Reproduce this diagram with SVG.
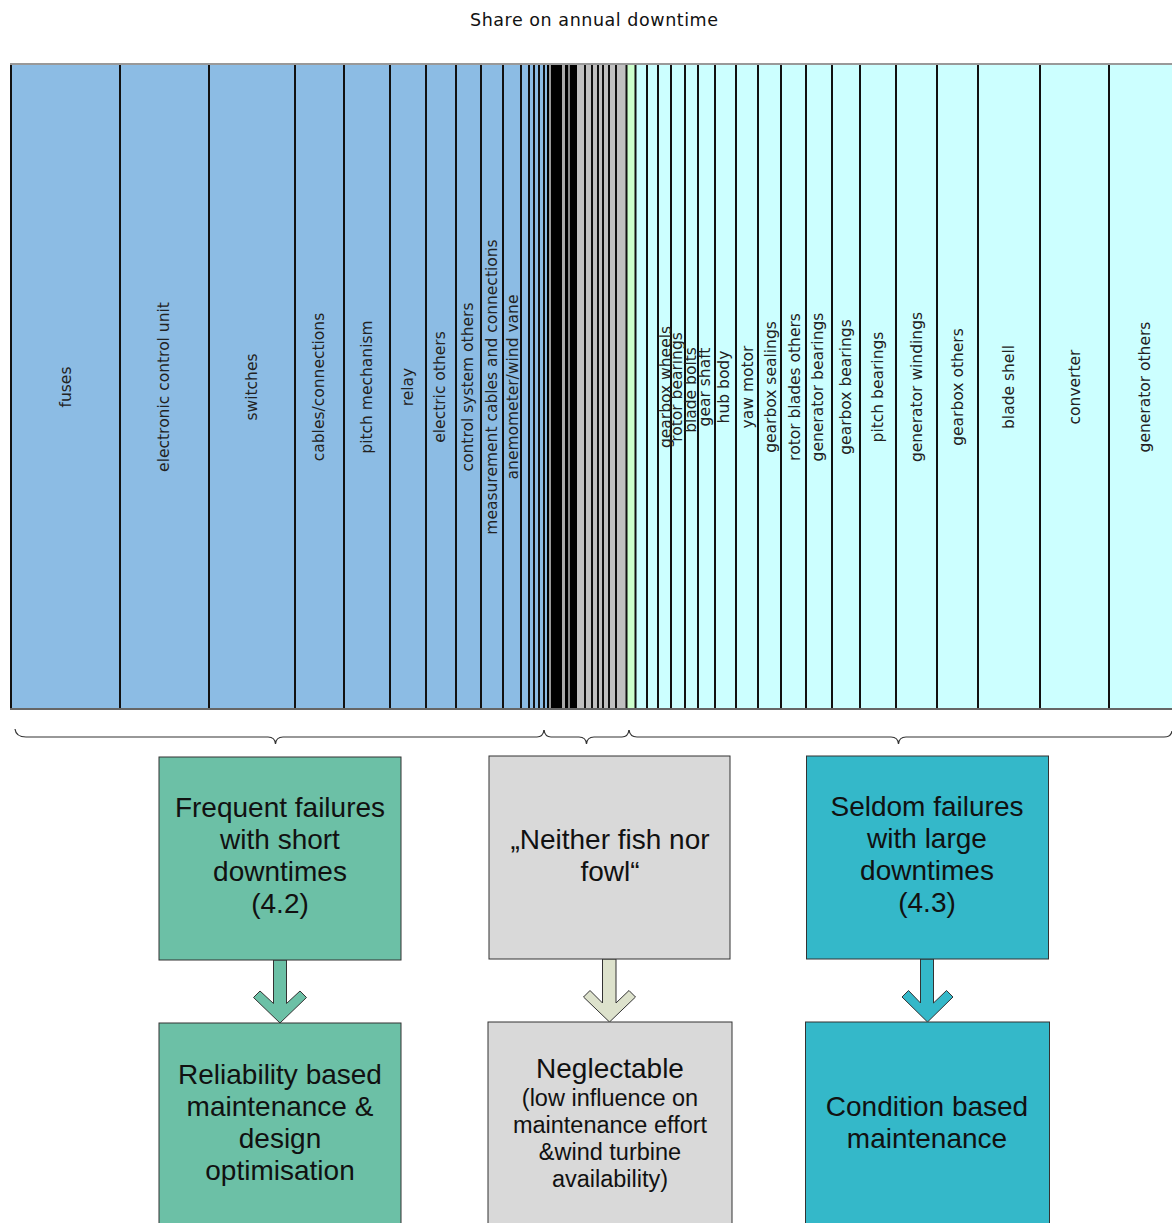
<svg xmlns="http://www.w3.org/2000/svg" width="1172" height="1223" viewBox="0 0 1172 1223">
<style>
.lbl{font-family:"DejaVu Sans",sans-serif;font-size:15.5px;fill:#222;text-anchor:middle;dominant-baseline:central}
.vl{stroke:#111;stroke-width:2}
.bt{font-family:"Liberation Sans",Arial,sans-serif;font-size:28px;fill:#111;text-anchor:middle}
.st{font-family:"Liberation Sans",Arial,sans-serif;font-size:23.5px;fill:#111;text-anchor:middle}
.brace{fill:none;stroke:#333;stroke-width:1.2}
.box{stroke:#333;stroke-width:1}
.arr{stroke:#333;stroke-width:1}
</style>
<rect width="1172" height="1223" fill="#fff"/>
<text x="594" y="26" font-family="DejaVu Sans,sans-serif" font-size="17.5" fill="#111" text-anchor="middle" textLength="248">Share on annual downtime</text>
<g id="chart">
<rect x="11" y="64" width="536" height="645" fill="#8CBCE4"/>
<rect x="547" y="64" width="30" height="645" fill="#000"/>
<rect x="549" y="64" width="2" height="645" fill="#999"/>
<rect x="562" y="64" width="3" height="645" fill="#aaa"/>
<rect x="568" y="64" width="2" height="645" fill="#888"/>
<rect x="577" y="64" width="50" height="645" fill="#C0C0C0"/>
<rect x="627" y="64" width="9" height="645" fill="#CCFFCC"/>
<rect x="636" y="64" width="545" height="645" fill="#CCFFFF"/>
<g class="vl">
<line x1="11" y1="64" x2="11" y2="709"/>
<line x1="120" y1="64" x2="120" y2="709"/>
<line x1="209" y1="64" x2="209" y2="709"/>
<line x1="295" y1="64" x2="295" y2="709"/>
<line x1="344" y1="64" x2="344" y2="709"/>
<line x1="390" y1="64" x2="390" y2="709"/>
<line x1="426" y1="64" x2="426" y2="709"/>
<line x1="456" y1="64" x2="456" y2="709"/>
<line x1="481" y1="64" x2="481" y2="709"/>
<line x1="503" y1="64" x2="503" y2="709"/>
<line x1="521" y1="64" x2="521" y2="709"/>
<line x1="529" y1="64" x2="529" y2="709"/>
<line x1="534" y1="64" x2="534" y2="709"/>
<line x1="539" y1="64" x2="539" y2="709"/>
<line x1="544" y1="64" x2="544" y2="709"/>
<line x1="585" y1="64" x2="585" y2="709"/>
<line x1="592" y1="64" x2="592" y2="709"/>
<line x1="598" y1="64" x2="598" y2="709"/>
<line x1="603" y1="64" x2="603" y2="709"/>
<line x1="609" y1="64" x2="609" y2="709"/>
<line x1="616" y1="64" x2="616" y2="709"/>
<line x1="626.5" y1="64" x2="626.5" y2="709"/>
<line x1="635.5" y1="64" x2="635.5" y2="709"/>
<line x1="647" y1="64" x2="647" y2="709"/>
<line x1="658" y1="64" x2="658" y2="709"/>
<line x1="671" y1="64" x2="671" y2="709"/>
<line x1="685" y1="64" x2="685" y2="709"/>
<line x1="698" y1="64" x2="698" y2="709"/>
<line x1="715" y1="64" x2="715" y2="709"/>
<line x1="736" y1="64" x2="736" y2="709"/>
<line x1="758" y1="64" x2="758" y2="709"/>
<line x1="781" y1="64" x2="781" y2="709"/>
<line x1="806" y1="64" x2="806" y2="709"/>
<line x1="832" y1="64" x2="832" y2="709"/>
<line x1="860" y1="64" x2="860" y2="709"/>
<line x1="896" y1="64" x2="896" y2="709"/>
<line x1="937" y1="64" x2="937" y2="709"/>
<line x1="978" y1="64" x2="978" y2="709"/>
<line x1="1040" y1="64" x2="1040" y2="709"/>
<line x1="1109" y1="64" x2="1109" y2="709"/>
</g>
<line x1="10" y1="64" x2="1172" y2="64" stroke="#999" stroke-width="2"/>
<line x1="10" y1="709" x2="1172" y2="709" stroke="#666" stroke-width="2"/>
<text class="lbl" transform="translate(66,387) rotate(-90)">fuses</text>
<text class="lbl" transform="translate(164,387) rotate(-90)">electronic control unit</text>
<text class="lbl" transform="translate(252,387) rotate(-90)">switches</text>
<text class="lbl" transform="translate(319,387) rotate(-90)">cables/connections</text>
<text class="lbl" transform="translate(367,387) rotate(-90)">pitch mechanism</text>
<text class="lbl" transform="translate(408,387) rotate(-90)">relay</text>
<text class="lbl" transform="translate(440,387) rotate(-90)">electric others</text>
<text class="lbl" transform="translate(468,387) rotate(-90)">control system others</text>
<text class="lbl" transform="translate(492,387) rotate(-90)">measurement cables and connections</text>
<text class="lbl" transform="translate(512.5,387) rotate(-90)">anemometer/wind vane</text>
<text class="lbl" transform="translate(665.5,387) rotate(-90)">gearbox wheels</text>
<text class="lbl" transform="translate(677,387) rotate(-90)">rotor bearings</text>
<text class="lbl" transform="translate(691,390) rotate(-90)">blade bolts</text>
<text class="lbl" transform="translate(704.5,387) rotate(-90)">gear shaft</text>
<text class="lbl" transform="translate(724,387) rotate(-90)">hub body</text>
<text class="lbl" transform="translate(748,387) rotate(-90)">yaw motor</text>
<text class="lbl" transform="translate(771,387) rotate(-90)">gearbox sealings</text>
<text class="lbl" transform="translate(795,387) rotate(-90)">rotor blades others</text>
<text class="lbl" transform="translate(818,387) rotate(-90)">generator bearings</text>
<text class="lbl" transform="translate(846,387) rotate(-90)">gearbox bearings</text>
<text class="lbl" transform="translate(878,387) rotate(-90)">pitch bearings</text>
<text class="lbl" transform="translate(916.5,387) rotate(-90)">generator windings</text>
<text class="lbl" transform="translate(957.5,387) rotate(-90)">gearbox others</text>
<text class="lbl" transform="translate(1009,387) rotate(-90)">blade shell</text>
<text class="lbl" transform="translate(1074.5,387) rotate(-90)">converter</text>
<text class="lbl" transform="translate(1144.5,387) rotate(-90)">generator others</text>
</g>
<g id="braces">
<path class="brace" d="M15,729 Q16,737 26,737 L268,737 Q275,737 275.5,744 Q276,737 283,737 L537,737 Q543,737 544,730"/>
<path class="brace" d="M544,730 Q545,737 551,737 L579,737 Q586,737 586.5,744 Q587,737 594,737 L622,737 Q628,737 629,730"/>
<path class="brace" d="M629,730 Q630,737 637,737 L891,737 Q898,737 898.5,744 Q899,737 906,737 L1164,737 Q1171,737 1172,731"/>
</g>
<g id="connectors">
<polygon class="arr" fill="#6CC0A6" points="273.5,960 273.5,1003.5 260,991 253.5,997.5 280,1023 306.5,997.5 300,991 286.5,1003.5 286.5,960"/>
<polygon class="arr" fill="#DDE2CC" stroke="#666" points="602.5,959 602.5,1003 590,990.5 583.5,997 609.5,1022 635.5,997 629,990.5 616,1003 616,959"/>
<polygon class="arr" fill="#34B8C9" points="920.5,959 920.5,1003 908.5,990.5 902,997 927.5,1022 953,997 946.5,990.5 933.5,1003 933.5,959"/>
</g>
<g id="node1">
<rect class="box" x="159" y="757" width="242" height="203" fill="#6CC0A6"/>
<text class="bt" x="280" y="817">Frequent failures</text>
<text class="bt" x="280" y="849">with short</text>
<text class="bt" x="280" y="881">downtimes</text>
<text class="bt" x="280" y="913">(4.2)</text>
</g>
<g id="node2">
<rect class="box" x="489" y="756" width="241" height="203" fill="#D9D9D9" stroke="#555"/>
<text class="bt" x="610" y="849">„Neither fish nor</text>
<text class="bt" x="610" y="881">fowl“</text>
</g>
<g id="node3">
<rect class="box" x="806.5" y="756" width="242" height="203" fill="#34B8C9"/>
<text class="bt" x="927" y="816">Seldom failures</text>
<text class="bt" x="927" y="848">with large</text>
<text class="bt" x="927" y="880">downtimes</text>
<text class="bt" x="927" y="912">(4.3)</text>
</g>
<g id="node4">
<rect class="box" x="159" y="1023" width="242" height="210" fill="#6CC0A6"/>
<text class="bt" x="280" y="1084">Reliability based</text>
<text class="bt" x="280" y="1116">maintenance &amp;</text>
<text class="bt" x="280" y="1148">design</text>
<text class="bt" x="280" y="1180">optimisation</text>
</g>
<g id="node5">
<rect class="box" x="488" y="1022" width="244" height="210" fill="#D9D9D9" stroke="#555"/>
<text class="bt" x="610" y="1078">Neglectable</text>
<text class="st" x="610" y="1106">(low influence on</text>
<text class="st" x="610" y="1133">maintenance effort</text>
<text class="st" x="610" y="1160">&amp;wind turbine</text>
<text class="st" x="610" y="1187">availability)</text>
</g>
<g id="node6">
<rect class="box" x="805.5" y="1022" width="244" height="210" fill="#34B8C9"/>
<text class="bt" x="927" y="1116">Condition based</text>
<text class="bt" x="927" y="1148">maintenance</text>
</g>
</svg>
